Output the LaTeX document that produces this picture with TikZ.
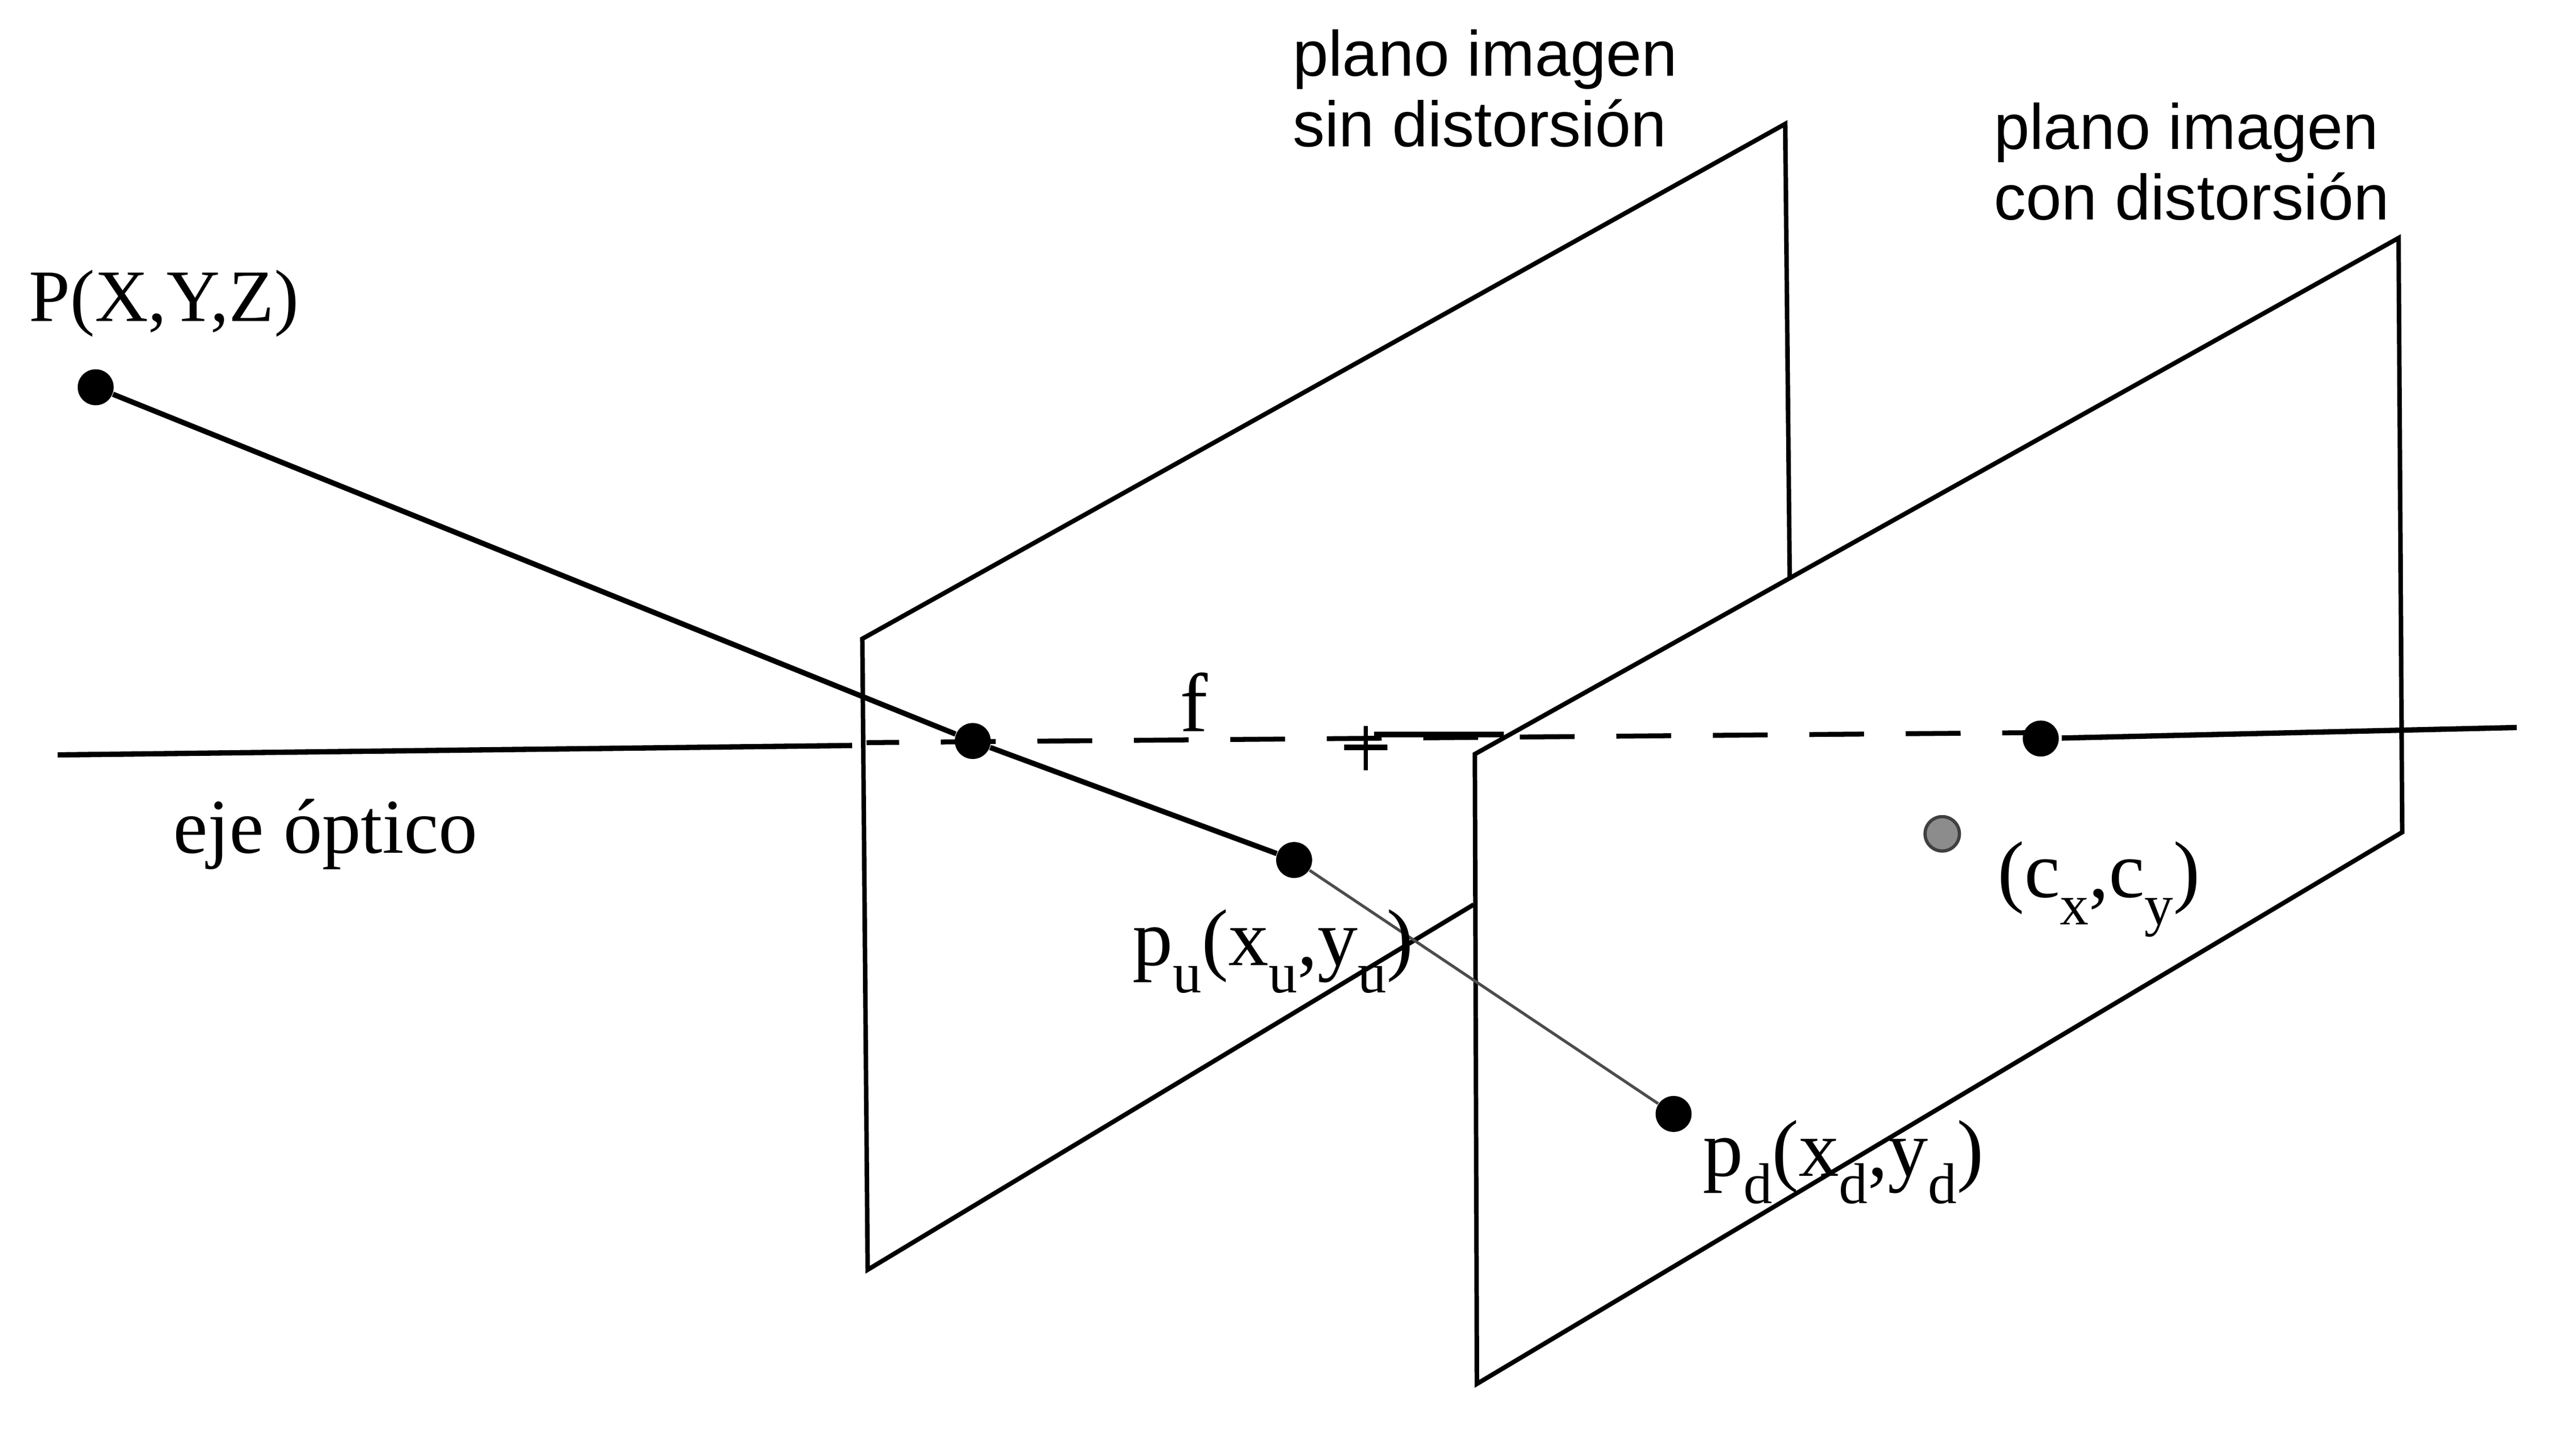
\documentclass[tikz,border=0pt]{standalone}
\usepackage{fontspec}
\setmainfont{Liberation Serif}
\newfontfamily\labelsans{Liberation Sans}
\newlength{\du}
\setlength{\du}{0.05mm}
\newcommand{\lowsub}[1]{\raisebox{-9.5pt}{\fontsize{20}{20}\selectfont #1}}
\tikzset{
  planeline/.style={line width=11\du,line join=miter},
  rayline/.style={line width=13\du},
  thinray/.style={line width=7\du,draw=black!70},
  axisline/.style={line width=13\du},
  axisdash/.style={line width=12\du,dash pattern=on 134\du off 102\du,dash phase=54\du},
  dotblack/.style={circle,fill=black,inner sep=0pt,minimum size=88\du},
  dotgray/.style={circle,fill=black!45,draw=black!75,line width=8\du,inner sep=0pt,minimum size=84\du},
  serifbig/.style={anchor=base west,inner sep=0pt,font=\fontsize{28}{28}\selectfont},
  sanslabel/.style={anchor=base west,inner sep=0pt,align=left,font=\labelsans\fontsize{22.3}{24.5}\selectfont}
}

\begin{document}
\begin{tikzpicture}
\pgftransformxscale{1.000000}
\pgftransformyscale{-1.000000}
\useasboundingbox (0\du,0\du) rectangle (6300\du,3550\du);
% plane corners
\coordinate (a1) at (2109\du,1562\du);
\coordinate (a2) at (4366\du,303\du);
\coordinate (a3) at (4377\du,1412\du);
\coordinate (a4) at (3604\du,2212\du);
\coordinate (a5) at (2122\du,3105\du);
\coordinate (b1) at (3607\du,1844\du);
\coordinate (b2) at (5866\du,582\du);
\coordinate (b3) at (5875\du,2035\du);
\coordinate (b4) at (3612\du,3384\du);
% axis ends
\coordinate (axisL) at (141\du,1846\du);
\coordinate (axisM) at (2084\du,1823\du);
\coordinate (dashS) at (2119\du,1816\du);
\coordinate (dashE) at (5030\du,1791\du);
\coordinate (axisR) at (6155\du,1779\du);
\coordinate (barS) at (3360\du,1796\du);
\coordinate (barE) at (3678\du,1796\du);
\coordinate (plusT) at (3340\du,1775\du);
\coordinate (plusB) at (3340\du,1884\du);
\coordinate (plusL) at (3287\du,1828\du);
\coordinate (plusR) at (3393\du,1828\du);
% points
\node[dotblack] (ptP) at (234\du,947\du) {};
\node[dotblack] (ptO) at (2379\du,1812\du) {};
\node[dotblack] (ptU) at (3165\du,2103\du) {};
\node[dotblack] (ptD) at (4093\du,2724\du) {};
\node[dotblack] (ptF) at (4991\du,1806\du) {};
\node[dotgray] (ptC) at (4750\du,2039\du) {};
% planes
\draw[planeline] (a3)--(a2)--(a1)--(a5)--(a4);
\draw[planeline] (b3)--(b2)--(b1)--(b4)--cycle;
% optical axis
\draw[axisline] (axisL)--(axisM);
\draw[axisdash] (dashS)--(dashE);
\draw[axisline] (barS)--(barE);
\draw[axisline,shorten <=6\du] (ptF)--(axisR);
\draw[line width=10\du] (plusT)--(plusB);
\draw[line width=14\du] (plusL)--(plusR);
% rays
\draw[rayline] (ptP)--(ptO);
\draw[rayline] (ptO)--(ptU);
\draw[thinray] (ptU)--(ptD);
% labels
\node[serifbig,font=\fontsize{25.7}{25.7}\selectfont] (lblP) at (70\du,785\du) {P(X,Y,Z)};
\node[serifbig,font=\fontsize{27}{27}\selectfont] (lblEje) at (423\du,2086\du) {eje óptico};
\node[serifbig,font=\fontsize{29}{29}\selectfont] (lblF) at (2884\du,1788\du) {f};
\node[serifbig] (lblU) at (2769\du,2360\du) {p\lowsub{u}(x\lowsub{u},y\lowsub{u})};
\node[serifbig] (lblD) at (4164\du,2876\du) {p\lowsub{d}(x\lowsub{d},y\lowsub{d})};
\node[serifbig] (lblC) at (4884\du,2194\du) {(c\lowsub{x},c\lowsub{y})};
\node[sanslabel] (lblSin) at (3160\du,358\du) {plano imagen\\sin distorsión};
\node[sanslabel] (lblCon) at (4875\du,537\du) {plano imagen\\con distorsión};
\end{tikzpicture}
\end{document}
